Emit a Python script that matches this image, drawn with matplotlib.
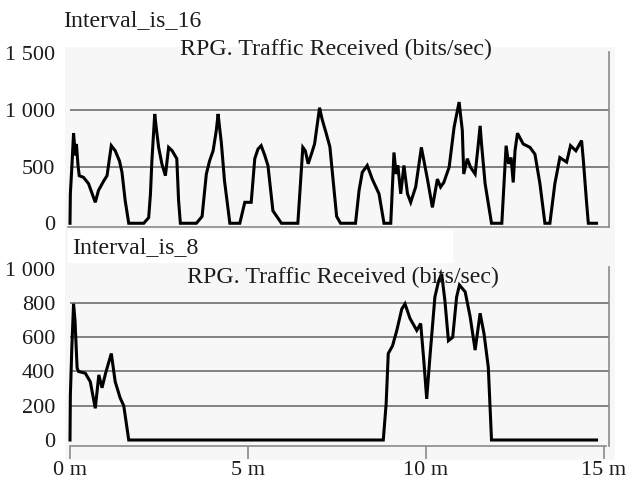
import matplotlib.pyplot as plt
from matplotlib.patches import Rectangle

# minutes / bits per second
T16 = [0.00, 0.01, 0.056, 0.10, 0.15, 0.18, 0.225, 0.26, 0.38, 0.52, 0.71, 0.80,
       0.95, 1.04, 1.16, 1.27, 1.39, 1.46, 1.55, 1.65, 2.07, 2.21, 2.26, 2.30,
       2.38, 2.42, 2.49, 2.58, 2.68, 2.77, 2.87, 3.00, 3.05, 3.10, 3.55, 3.71,
       3.83, 3.92, 4.02, 4.11, 4.16, 4.20, 4.25, 4.34, 4.49, 4.77, 4.91, 5.09,
       5.19, 5.28, 5.37, 5.47, 5.56, 5.70, 5.94, 6.40, 6.54, 6.61, 6.69, 6.78,
       6.87, 7.01, 7.08, 7.20, 7.30, 7.40, 7.49, 7.60, 8.02, 8.12, 8.21, 8.35,
       8.49, 8.68, 8.82, 9.01, 9.10, 9.16, 9.21, 9.29, 9.38, 9.48, 9.57, 9.71,
       9.87, 10.04, 10.18, 10.32, 10.41, 10.50, 10.65, 10.79, 10.93, 11.02,
       11.06, 11.16, 11.25, 11.38, 11.47, 11.52, 11.56, 11.66, 11.84, 12.13,
       12.25, 12.32, 12.39, 12.45, 12.50, 12.57, 12.73, 12.92, 13.06, 13.20,
       13.34, 13.48, 13.62, 13.76, 13.95, 14.06, 14.21, 14.37, 14.42, 14.51,
       14.56, 14.79]
V16 = [0, 260, 520, 795, 600, 700, 510, 420, 405, 350, 185, 290,
       375, 420, 685, 640, 550, 450, 200, 0, 0, 50, 260, 550,
       965, 850, 670, 525, 420, 670, 640, 570, 200, 0, 0, 60,
       435, 550, 640, 820, 965, 850, 715, 375, 0, 0, 185, 185,
       570, 655, 685, 600, 510, 110, 0, 0, 670, 640, 525, 610,
       700, 1020, 920, 790, 675, 350, 60, 0, 0, 290, 450, 510,
       390, 260, 0, 0, 625, 435, 510, 260, 510, 260, 185, 320,
       670, 390, 140, 390, 320, 360, 495, 850, 1070, 820,
       435, 570, 495, 435, 700, 860, 700, 350, 0, 0,
       685, 525, 580, 360, 640, 795, 700, 670, 610, 350,
       0, 0, 350, 580, 540, 685, 640, 730, 555, 185,
       0, 0]

T8 = [0.00, 0.01, 0.05, 0.10, 0.14, 0.20, 0.24, 0.43, 0.57, 0.71, 0.81, 0.90,
      1.00, 1.16, 1.27, 1.41, 1.51, 1.65, 8.80, 8.88, 8.94, 9.06, 9.18, 9.32,
      9.41, 9.55, 9.74, 9.85, 9.93, 10.02, 10.11, 10.25, 10.35, 10.44, 10.53,
      10.63, 10.75, 10.86, 10.94, 11.10, 11.24, 11.38, 11.52, 11.63, 11.75,
      11.84, 14.79]
V8 = [0, 260, 530, 795, 700, 420, 400, 390, 340, 185, 380, 305,
      390, 505, 340, 245, 200, 0, 0, 210, 505, 550, 640, 765,
      795, 710, 640, 680, 485, 240, 485, 835, 925, 970, 815,
      580, 600, 835, 905, 865, 720, 525, 740, 620, 425,
      0, 0]

TICKS16 = [0, 500, 1000, 1500]
TICKLABELS16 = ["0", "500", "1 000", "1 500"]
TICKS8 = [0, 200, 400, 600, 800, 1000]
TICKLABELS8 = ["0", "200", "400", "600", "800", "1 000"]
XTICKS = [0, 5, 10, 15]
XTICKLABELS = ["0 m", "5 m", "10 m", "15 m"]

W, H = 629, 483
TXT = "#1c1c1c"
GRID = "#6e6e6e"
EDGE = "#8a8a8a"
plt.rcParams["font.family"] = ["Liberation Serif", "DejaVu Serif"]
plt.rcParams["font.size"] = 16

fig = plt.figure(figsize=(W / 100, H / 100), dpi=100)


def px_rect(x0, y0, x1, y1):
    return [x0 / W, 1 - y1 / H, (x1 - x0) / W, (y1 - y0) / H]


# light grey panel behind both plots, white box behind the second label
r = px_rect(65, 47, 615, 460)
fig.patches.append(Rectangle((r[0], r[1]), r[2], r[3], transform=fig.transFigure,
                             facecolor="#f7f7f7", edgecolor="none", zorder=-2))
r = px_rect(68, 230, 453, 263)
fig.patches.append(Rectangle((r[0], r[1]), r[2], r[3], transform=fig.transFigure,
                             facecolor="white", edgecolor="none", zorder=-1))

XLIM = (-5 / 35.6, 545 / 35.6)
XEND = 15.14


def style(ax, ylim, ticks, labels, grid, right_top):
    ax.set_facecolor("none")
    ax.set_zorder(2)
    ax.set_xlim(*XLIM)
    ax.set_ylim(*ylim)
    ax.hlines(grid, 0, XEND, color=GRID, lw=1.2, zorder=1)
    for s in ("left", "top"):
        ax.spines[s].set_visible(False)
    ax.spines["right"].set_position(("data", XEND))
    ax.spines["right"].set_bounds(ylim[0], right_top)
    for s in ("right", "bottom"):
        ax.spines[s].set_color(EDGE)
        ax.spines[s].set_linewidth(1.2)
    ax.set_yticks(ticks)
    ax.set_yticklabels(labels)
    ax.tick_params(axis="y", length=0, pad=7, colors=TXT, labelsize=16)


ax1 = fig.add_axes(px_rect(65, 47, 615, 227))
style(ax1, (-33, 1556), TICKS16, TICKLABELS16, [500, 1000], 1510)
ax1.spines["bottom"].set_bounds(-0.06, XEND)
ax1.set_xticks([])
ax1.plot(T16, V16, color="black", lw=2.2, solid_joinstyle="miter", zorder=3)

ax2 = fig.add_axes(px_rect(65, 230, 615, 446))
style(ax2, (-35, 1226), TICKS8, TICKLABELS8, [200, 400, 600, 800], 1010)
ax2.spines["bottom"].set_bounds(0, 15.06)
ax2.set_xticks(XTICKS)
ax2.set_xticklabels(XTICKLABELS)
ax2.tick_params(axis="x", length=9, width=1.2, color=EDGE, pad=2,
                labelcolor=TXT, labelsize=16)
ax2.plot(T8, V8, color="black", lw=2.2, solid_joinstyle="miter", zorder=3)

fig.text(63 / W, 1 - 26 / H, "Interval_is_16", color=TXT, ha="left",
         va="baseline", fontsize=17.2)
fig.text(336 / W, 1 - 55 / H, "RPG. Traffic Received (bits/sec)", color=TXT,
         ha="center", va="baseline", fontsize=17.2)
fig.text(72 / W, 1 - 253 / H, "Interval_is_8", color=TXT, ha="left",
         va="baseline", fontsize=17.2)
fig.text(343 / W, 1 - 283 / H, "RPG. Traffic Received (bits/sec)", color=TXT,
         ha="center", va="baseline", fontsize=17.2)

fig.savefig("out.png", dpi=100)
